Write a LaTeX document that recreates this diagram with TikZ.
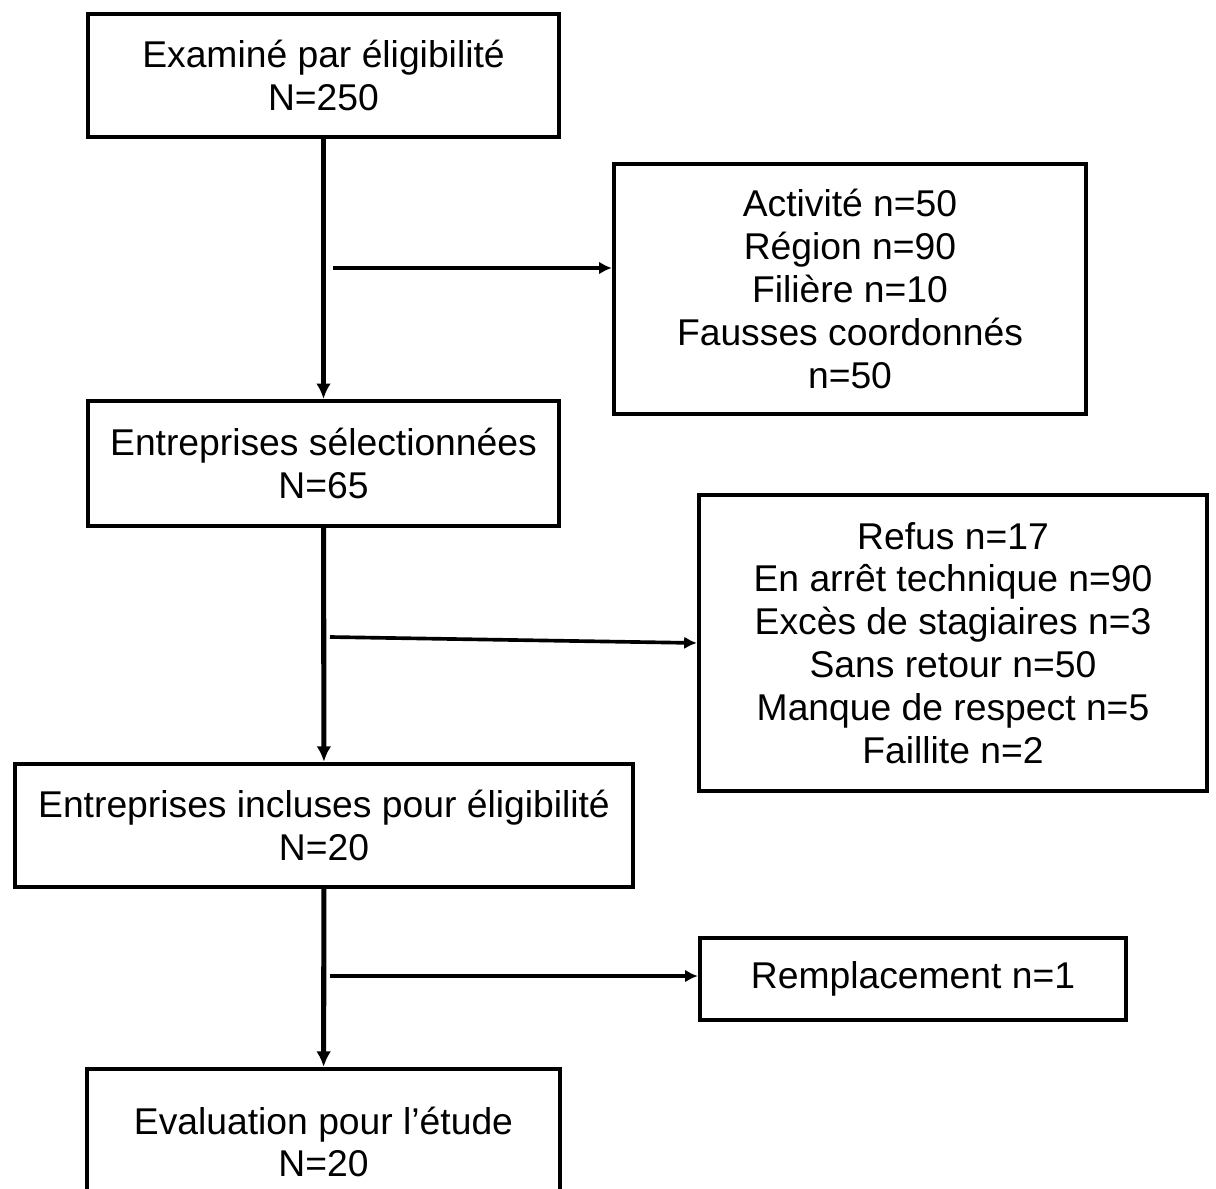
\documentclass[tikz,border=0pt]{standalone}
\usepackage{fontspec}
\setmainfont{Liberation Sans}
\usetikzlibrary{arrows.meta}
\begin{document}
\begin{tikzpicture}[x=0.025cm,y=-0.025cm,
    box/.style={draw,line width=3pt,align=center,inner sep=2pt,
        font=\fontsize{26.5}{30.5}\selectfont},
    down/.style={-{Latex[length=11pt,width=10.5pt]},line width=3.6pt},
    side/.style={-{Latex[length=9pt,width=9pt]},line width=2.6pt}]
        \useasboundingbox (0,0) rectangle (1216,1189);
        \node[box,minimum width=11.78cm,minimum height=3.08cm](examine)at(323.5,75.5){Examiné par éligibilité\\N=250};
        \node[box,minimum width=11.8cm,minimum height=6.25cm](exclu)at(850,289){Activité n=50\\Région n=90\\Filière n=10\\Fausses coordonnés\\n=50};
        \node[box,minimum width=11.78cm,minimum height=3.12cm](select)at(323.5,463.5){Entreprises sélectionnées\\N=65};
        \node[box,minimum width=12.7cm,minimum height=7.4cm](refus)at(953,643){Refus n=17\\En arrêt technique n=90\\Excès de stagiaires n=3\\Sans retour n=50\\Manque de respect n=5\\Faillite n=2};
        \node[box,minimum width=15.45cm,minimum height=3.08cm](incluses)at(324,825.5){Entreprises incluses pour éligibilité\\N=20};
        \node[box,minimum width=10.65cm,minimum height=2.05cm](remplace)at(913,979){Remplacement n=1};
        \node[box,minimum width=11.82cm,minimum height=3.65cm](evaluation)at(323.5,1142){Evaluation pour l’étude\\N=20};
        \coordinate(h1)at(333,268);
        \coordinate(h2)at(330,637);
        \coordinate(h3)at(330,976);
        \draw[down](examine)--(select);
        \draw[down](select)--(incluses);
        \draw[down](incluses)--(evaluation);
        \draw[side](h1)--(h1-|exclu.west);
        \draw[side](h2)--(refus.west);
        \draw[side](h3)--(h3-|remplace.west);
\end{tikzpicture}
\end{document}
